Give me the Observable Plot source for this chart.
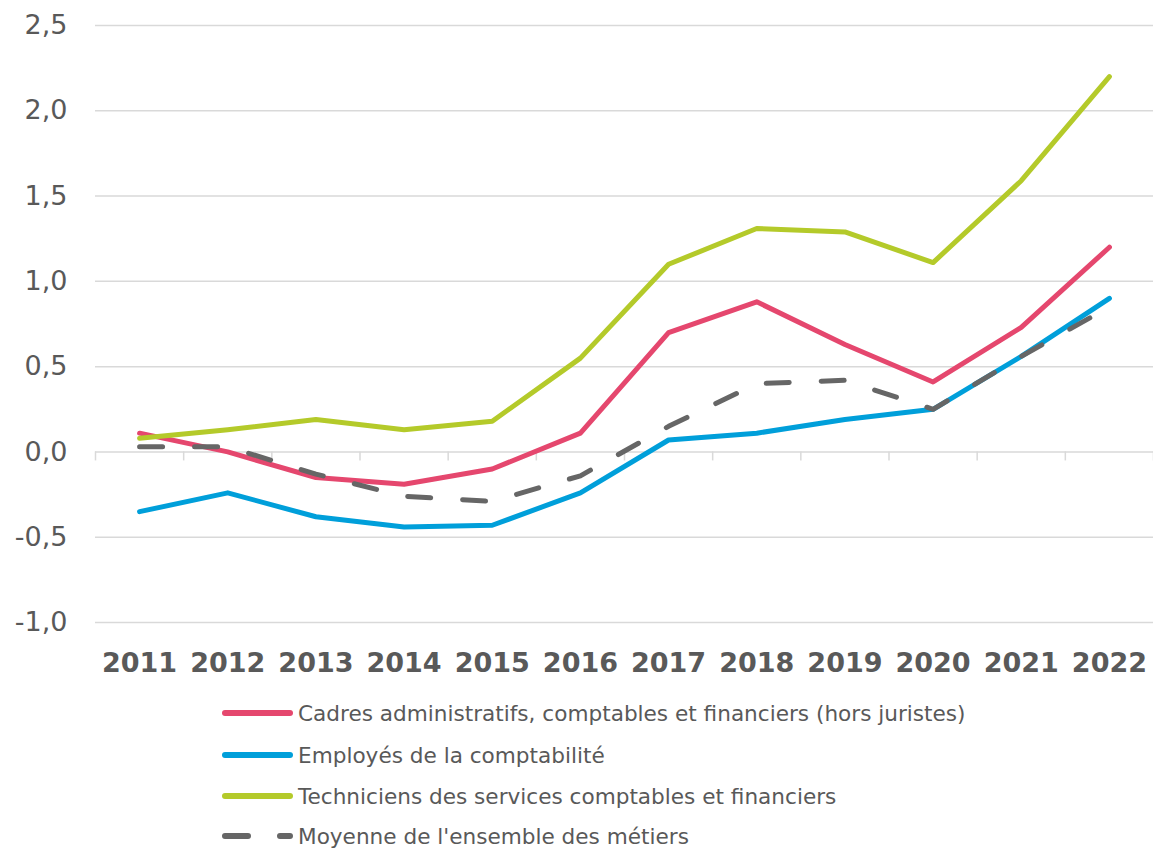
<!DOCTYPE html>
<html>
<head>
<meta charset="utf-8">
<script src="https://cdn.jsdelivr.net/npm/d3@7"></script>
<script src="https://cdn.jsdelivr.net/npm/@observablehq/plot@0.6"></script>
<style>
html, body { margin: 0; padding: 0; background: #fff; overflow: hidden; }
#chart svg { display: block; }
</style>
</head>
<body>
<div id="chart"></div>
<script>
const years = [2011, 2012, 2013, 2014, 2015, 2016, 2017, 2018, 2019, 2020, 2021, 2022];
const cadres      = [0.11, 0.00, -0.15, -0.19, -0.10, 0.11, 0.70, 0.88, 0.63, 0.41, 0.73, 1.20];
const employes    = [-0.35, -0.24, -0.38, -0.44, -0.43, -0.24, 0.07, 0.11, 0.19, 0.25, 0.56, 0.90];
const techniciens = [0.08, 0.13, 0.19, 0.13, 0.18, 0.55, 1.10, 1.31, 1.29, 1.11, 1.59, 2.20];
const moyenne     = [0.03, 0.03, -0.13, -0.26, -0.29, -0.14, 0.15, 0.40, 0.42, 0.25, 0.56, 0.85];
const yTicks = [-1.0, -0.5, 0.0, 0.5, 1.0, 1.5, 2.0, 2.5];
const seriesNames = [
  "Cadres administratifs, comptables et financiers (hors juristes)",
  "Employés de la comptabilité",
  "Techniciens des services comptables et financiers",
  "Moyenne de l'ensemble des métiers"
];
const seriesValues = [cadres, employes, techniciens, moyenne];
const seriesColors = ["#E5476E", "#009FDA", "#B4CA2A", "#666666"];
const seriesDash = [null, null, null, "23,32"];

const rows = [];
seriesNames.forEach((name, k) => years.forEach((yr, i) => rows.push({series: name, year: yr, value: seriesValues[k][i]})));
const boundaries = years.map(y => y - 0.5).concat([years[years.length - 1] + 0.5]);

const fmt = d => d.toFixed(1).replace(".", ",");

const lineMarks = seriesNames.map((name, k) => Plot.line(rows.filter(r => r.series === name), {
  x: "year", y: "value",
  stroke: seriesColors[k], strokeWidth: 5,
  strokeLinecap: "round", strokeLinejoin: "round",
  strokeDasharray: seriesDash[k] || undefined
}));

const chart = Plot.plot({
  width: 1153, height: 690,
  marginTop: 25, marginBottom: 68, marginLeft: 95, marginRight: 0,
  style: {fontFamily: "'DejaVu Sans', Verdana, sans-serif", color: "#595959", background: "#fff"},
  x: {type: "linear", domain: [years[0] - 0.5, years[years.length - 1] + 0.5], label: null},
  y: {domain: [yTicks[0], yTicks[yTicks.length - 1]], label: null},
  marks: [
    Plot.ruleY(yTicks, {stroke: "#d9d9d9", strokeWidth: 1.5}),
    Plot.ruleX(boundaries, {y1: () => 0, y2: () => 0, insetBottom: -9, stroke: "#d9d9d9", strokeWidth: 1.5}),
    Plot.axisY(yTicks, {tickSize: 0, tickPadding: 28, fontSize: 27, tickFormat: fmt, label: null}),
    Plot.axisX(years, {tickSize: 0, tickPadding: 30.5, fontSize: 27, fontWeight: "bold", tickFormat: d => String(d), label: null}),
    ...lineMarks
  ]
});
document.getElementById("chart").appendChild(chart);

// Legend
const legend = d3.create("svg").attr("width", 1153).attr("height", 159)
  .style("display", "block")
  .style("font-family", "'DejaVu Sans', Verdana, sans-serif");
const rowY = [23, 65, 106, 146];
seriesNames.forEach((name, k) => {
  const g = legend.append("g").attr("transform", `translate(0,${rowY[k]})`);
  g.append("line").attr("x1", 225).attr("x2", 290).attr("y1", 0).attr("y2", 0)
    .attr("stroke", seriesColors[k]).attr("stroke-width", 6).attr("stroke-linecap", "round")
    .attr("stroke-dasharray", seriesDash[k]);
  g.append("text").attr("x", 298).attr("y", 0).attr("dy", "0.36em")
    .attr("font-size", 21.6).attr("fill", "#595959").text(name);
});
document.getElementById("chart").appendChild(legend.node());
</script>
</body>
</html>
